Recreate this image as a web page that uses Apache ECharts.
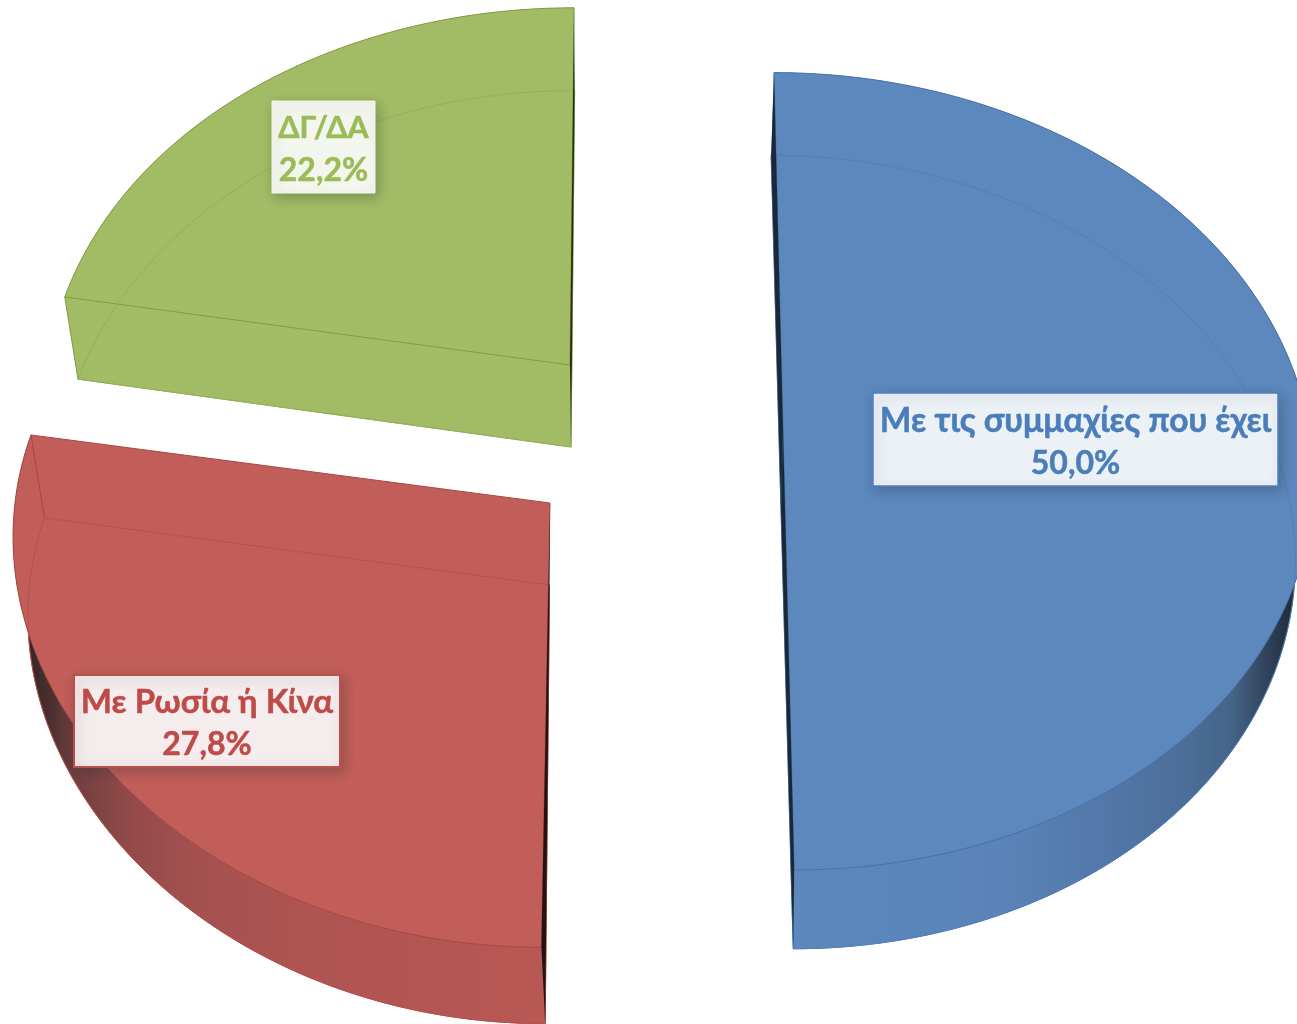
<!DOCTYPE html>
<html>
<head>
<meta charset="utf-8">
<style>html,body{margin:0;padding:0;background:#fff}#c{width:1297px;height:1024px}</style>
<script src="https://cdn.jsdelivr.net/npm/echarts@6/dist/echarts.min.js"></script>
</head>
<body>
<div id="c"></div>
<script>
const categories = ['Με τις συμμαχίες που έχει', 'Με Ρωσία ή Κίνα', 'ΔΓ/ΔΑ'];
const shares = [50.0, 27.8, 22.2];

const PERSPECTIVE = 0.1086;
const looks = [
  { face:'#5c88be', line:'#4672a8', faint:'#527fb8', dark:'#1c2836', ink:'#4a7ebb', paper:'#ecf1f6',
    top:{ax:783,ay:428,rx:526,ry:394,tilt:10,kx:0.1086}, low:{ax:781,ay:509,rx:510,ry:392,tilt:10.9,kx:0.1086},
    wall:[[0,'#5c88be'],[0.41,'#5a84b8'],[0.61,'#5378a9'],[0.77,'#4c6f9a'],[0.87,'#456588'],[0.945,'#2f4058'],[1,'#1e2833']], wallRange:[793,1297],
    box:[873,393,405,93], boxLine:'#4f81bd', boxWidth:1.5, nameSize:33.5, lines:[421,464] },
  { face:'#c25e59', line:'#a84742', faint:'#b35250', dark:'#221414', ink:'#be4b48', paper:'#f5eced',
    top:{ax:550,ay:503,rx:535,ry:396,tilt:-8,kx:0.07}, low:{ax:549.5,ay:585,rx:520,ry:391,tilt:-4,kx:0.07},
    wall:[[0,'#2e2323'],[0.06,'#4d3130'],[0.1,'#6e3f3e'],[0.21,'#934a49'],[0.34,'#a55150'],[0.55,'#ae5452'],[1,'#b85855']], wallRange:[22,541],
    box:[74,675,266,92], boxLine:'#bb4f4c', boxWidth:2, nameSize:33, lines:[702,745] },
  { face:'#a1bc65', line:'#7f9c45', faint:'#94b05a', dark:'#232d14', ink:'#9bbb59', paper:'#f3f6ed',
    top:{ax:570,ay:365,rx:522,ry:396,tilt:-4.4,kx:0.09}, low:{ax:571,ay:447,rx:511,ry:395,tilt:-4,kx:0.1086},
    wall:[[0,'#a1bc65'],[1,'#a1bc65']], wallRange:[64,574],
    box:[272,101,103,92], boxLine:'#f3f6ed', boxWidth:1, nameSize:30.5, lines:[128,171] }
];

function project(p, theta) {
  const X = Math.sin(theta), Y = -Math.cos(theta);
  const sy = 1 / (1 - PERSPECTIVE * Y), sx = 1 / (1 - p.kx * Y);
  return [p.ax + (X * p.rx + p.tilt * Y) * sx, p.ay + Y * p.ry * sy];
}
function arc(p, a0, a1) {
  const pts = [], n = 160;
  for (let i = 0; i <= n; i++) pts.push(project(p, a0 + (a1 - a0) * i / n));
  return pts;
}
function sector(p, a0, a1) { return [[p.ax, p.ay]].concat(arc(p, a0, a1)); }

const total = shares.reduce((a, b) => a + b, 0);
function startOf(i) {
  let acc = 0;
  for (let k = 0; k < i; k++) acc += shares[k];
  return acc / total * Math.PI * 2;
}

function renderItem(params, api) {
  const i = params.dataIndex, value = api.value(0), L = looks[i];
  const a0 = startOf(i), a1 = a0 + value / total * Math.PI * 2;
  const kids = [];
  const poly = (points, fill, stroke, lw) => kids.push({
    type:'polygon', shape:{points}, style:{fill, stroke: stroke || null, lineWidth: lw || 0, lineJoin:'round'}
  });
  const line = (points, stroke, lw) => kids.push({
    type:'polyline', shape:{points}, style:{fill:null, stroke, lineWidth: lw, lineJoin:'round'}
  });
  const lowerOutline = sector(L.low, a0, a1);
  poly(lowerOutline, L.face, L.faint, 1);
  const wallGrad = new echarts.graphic.LinearGradient(L.wallRange[0], 0, L.wallRange[1], 0,
    L.wall.map(s => ({offset:s[0], color:s[1]})), true);
  poly(arc(L.top, a0, a1).concat(arc(L.low, a0, a1).reverse()), wallGrad);
  poly(sector(L.top, a0, a1), L.face, L.line, 1);
  line(lowerOutline.concat([lowerOutline[0]]), L.faint, 1);
  [a0, a1].forEach(a => {
    const turn = a / Math.PI;
    if (Math.abs(turn - Math.round(turn)) < 1e-6) {
      poly([project(L.top, a), project(L.low, a), [L.low.ax, L.low.ay], [L.top.ax, L.top.ay]], L.dark);
    } else {
      line([project(L.top, a), project(L.low, a)], L.line, 1);
    }
  });
  const b = L.box;
  kids.push({ type:'rect', shape:{x:b[0], y:b[1], width:b[2], height:b[3]},
    style:{fill:L.paper, stroke:L.boxLine, lineWidth:L.boxWidth, shadowBlur:12, shadowOffsetX:3, shadowOffsetY:4, shadowColor:'rgba(40,50,50,0.3)'} });
  const pct = (value / total * 100).toFixed(1).replace('.', ',') + '%';
  const textAt = (text, y, size) => kids.push({ type:'text', x:b[0] + b[2] / 2, y,
    style:{ text, align:'center', verticalAlign:'middle',
      fontFamily:'Lato, "Open Sans", sans-serif', fontWeight:700, fontSize:size, fill:L.ink,
      stroke:L.ink, lineWidth:0.5 } });
  textAt(categories[i], L.lines[0], L.nameSize);
  textAt(pct, L.lines[1], 32);
  return { type:'group', children:kids };
}

const chart = echarts.init(document.getElementById('c'), null, {renderer:'canvas', width:1297, height:1024});
chart.setOption({
  animation:false,
  backgroundColor:'#ffffff',
  series:[{ type:'custom', coordinateSystem:'none', renderItem, clip:false,
    data: shares.map((v, i) => ({name:categories[i], value:[v]})) }]
});
</script>
</body>
</html>
